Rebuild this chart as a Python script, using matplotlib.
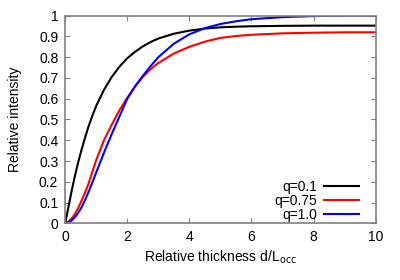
"""
Relative intensity vs. relative thickness for three q values.
"""
import matplotlib
matplotlib.use("Agg")
import matplotlib.pyplot as plt

plt.rcParams["font.family"] = ["Liberation Sans", "DejaVu Sans"]

# values
thickness = [0, 0.1, 0.2, 0.3, 0.4, 0.5, 0.625, 0.75, 0.875, 1.0, 1.25, 1.5, 1.75,
             2.0, 2.25, 2.5, 2.75, 3.0, 3.5, 4.0, 4.5, 5.0, 5.5, 6.0, 7.0, 8.0, 9.0, 10.0]
q01 = [0, 0.075, 0.150, 0.220, 0.283, 0.340, 0.405, 0.466, 0.518, 0.566, 0.643,
       0.705, 0.755, 0.795, 0.826, 0.852, 0.873, 0.890, 0.913, 0.928, 0.938, 0.944,
       0.947, 0.949, 0.951, 0.952, 0.952, 0.952]
q075 = [0, 0.008, 0.022, 0.042, 0.068, 0.100, 0.143, 0.190, 0.248, 0.305, 0.400,
        0.475, 0.545, 0.605, 0.658, 0.705, 0.742, 0.772, 0.818, 0.850, 0.875, 0.893,
        0.902, 0.908, 0.915, 0.918, 0.920, 0.920]
q10 = [0, 0.004, 0.013, 0.027, 0.046, 0.070, 0.107, 0.150, 0.197, 0.245, 0.340,
       0.430, 0.515, 0.600, 0.660, 0.710, 0.757, 0.800, 0.865, 0.910, 0.940, 0.960,
       0.973, 0.983, 0.993, 0.998, 1.000, 1.000]

series = [("q=0.1", q01, "black"), ("q=0.75", q075, "red"), ("q=1.0", q10, "blue")]

fig = plt.figure(figsize=(4.0, 2.8), dpi=100)
ax = fig.add_axes([0.163, 0.2025, 0.776, 0.7415])

for label, vals, color in series:
    ax.plot(thickness, vals, color=color, lw=1.5, label=label)

ax.set_xlim(0, 10)
ax.set_ylim(0, 1)
ax.set_xticks([0, 2, 4, 6, 8, 10])
ax.set_yticks([i / 10 for i in range(11)])
ax.set_yticklabels(["0", "0.1", "0.2", "0.3", "0.4", "0.5", "0.6", "0.7", "0.8", "0.9", "1"])
ax.tick_params(direction="in", length=3.5, width=0.8, color="#808080",
               top=True, right=True, labelsize=10, pad=5)
for sp in ax.spines.values():
    sp.set_color("#808080")
    sp.set_linewidth(1.2)

ax.set_xlabel("Relative thickness d/L$_{\\rm occ}$", fontsize=10, labelpad=3)
ax.set_ylabel("Relative intensity", fontsize=10, labelpad=12)

ax.legend(loc="lower right", frameon=False, markerfirst=False, fontsize=10,
          handlelength=2.5, handletextpad=0.55, labelspacing=0.0,
          borderaxespad=0.0, borderpad=0.0, bbox_to_anchor=(0.947, 0.008))

fig.savefig("out.png", dpi=100)
